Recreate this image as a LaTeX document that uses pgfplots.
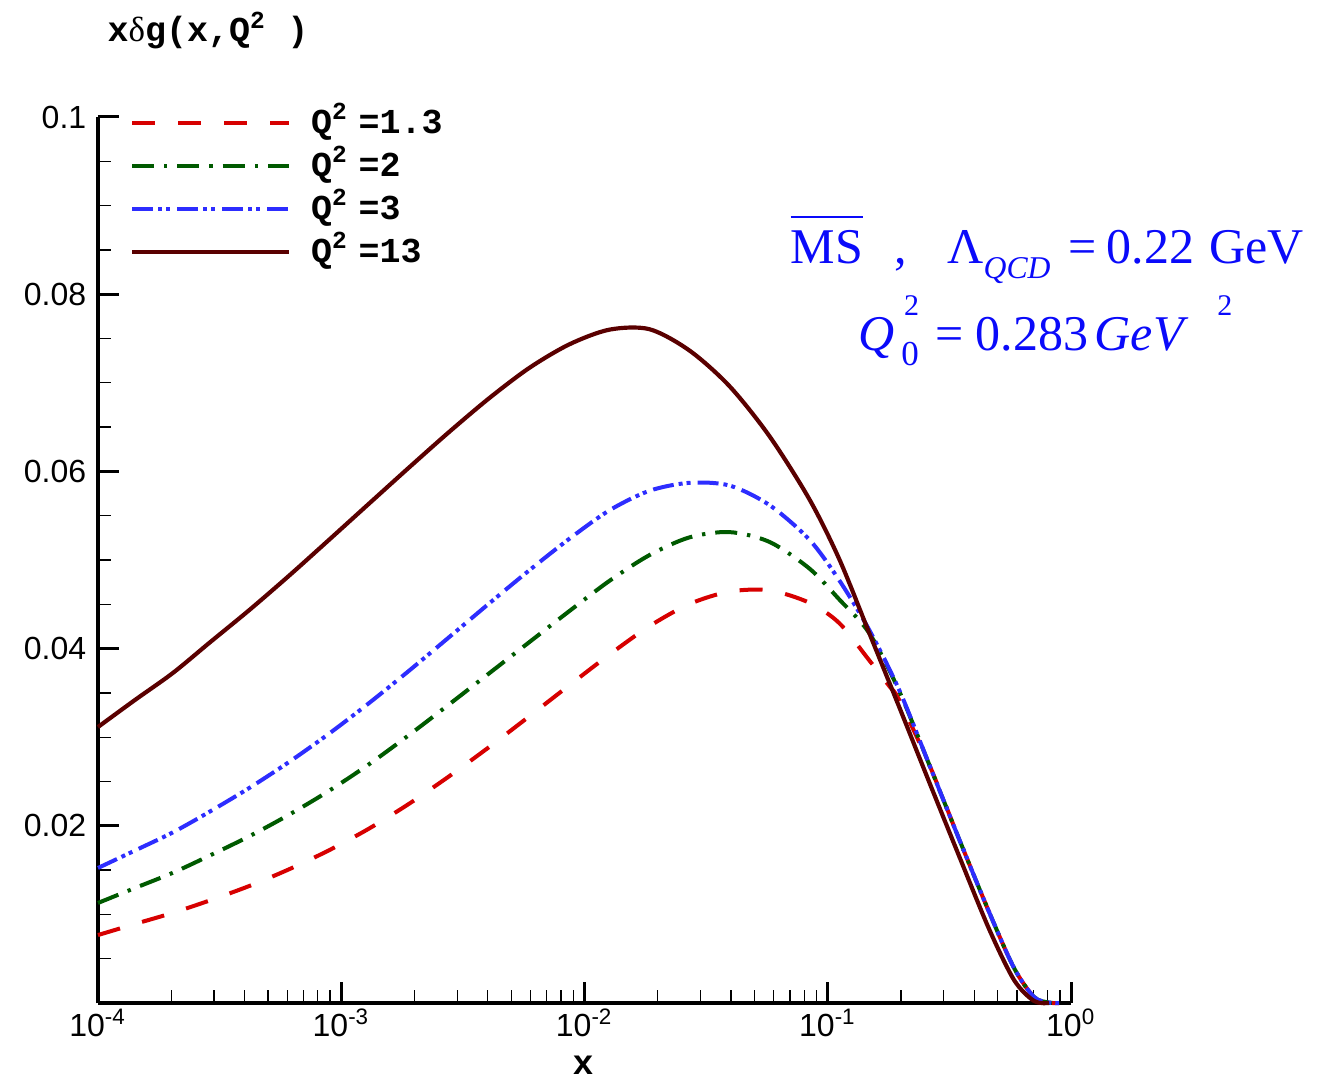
\documentclass[border=0pt]{standalone}
\usepackage{pgfplots}
\pgfplotsset{compat=1.18}
\usepackage{fontspec}
\setmainfont{Liberation Sans}
\newfontfamily\monob{Liberation Mono}
\newfontfamily\annfont{Liberation Serif}
\newcommand\mb{\monob\bfseries}
\definecolor{cred}{RGB}{215,0,0}
\definecolor{cgreen}{RGB}{0,90,0}
\definecolor{cblue}{RGB}{45,45,255}
\definecolor{cbrown}{RGB}{90,0,0}
\definecolor{annblue}{RGB}{10,10,250}
\begin{document}
\begin{tikzpicture}
\path[use as bounding box] (-29.4pt,-23.1pt) rectangle (368.7pt,300.9pt);
\begin{axis}[
  scale only axis, width=291.9pt, height=265.8pt,
  at={(0pt,0pt)}, anchor=south west,
  xmode=log, xmin=1e-4, xmax=1, ymin=0, ymax=0.1,
  axis lines*=left,
  axis line style={line width=1.2pt, black},
  tick align=inside,
  xtick={1e-4,1e-3,1e-2,1e-1,1},
  xticklabels={10\textsuperscript{-4},10\textsuperscript{-3},10\textsuperscript{-2},10\textsuperscript{-1},10\textsuperscript{0}},
  minor xtick={2e-4,3e-4,4e-4,5e-4,6e-4,7e-4,8e-4,9e-4,2e-3,3e-3,4e-3,5e-3,6e-3,7e-3,8e-3,9e-3,2e-2,3e-2,4e-2,5e-2,6e-2,7e-2,8e-2,9e-2,0.2,0.3,0.4,0.5,0.6,0.7,0.8,0.9},
  ytick={0.02,0.04,0.06,0.08,0.1},
  yticklabels={0.02,0.04,0.06,0.08,0.1},
  minor ytick={0.005,0.01,0.015,0.025,0.03,0.035,0.045,0.05,0.055,0.065,0.07,0.075,0.085,0.09,0.095},
  major tick length=6.3pt, minor tick length=3.9pt,
  every major tick/.append style={line width=0.9pt, black},
  every minor tick/.append style={line width=0.4pt, black},
  tick label style={font=\fontsize{9.6}{11}\selectfont},
  xticklabel style={yshift=1.8pt},
  xlabel={\mb x},
  xlabel style={at={(axis description cs:0.4985,-0.081)}, anchor=base, inner sep=0pt, font=\mb\fontsize{10.5}{12}\selectfont},
  ylabel={x{\annfont\mdseries δ}g(x,Q\textsuperscript{2} )},
  ylabel style={rotate=-90, at={(axis description cs:0.0092,1.0847)}, anchor=base west, inner sep=0pt, font=\mb\fontsize{10.5}{12}\selectfont},
  clip=false,
  legend style={draw=none, fill=none, inner sep=0pt, outer sep=0pt, at={(axis description cs:0.0329,1.012)}, anchor=north west,
    font=\mb\fontsize{10.5}{12}\selectfont, row sep=2.9pt,
    nodes={inner sep=0pt, text height=8pt, text depth=2pt},
    /tikz/every odd column/.append style={column sep=6pt}},
  legend cell align=left,
  legend image code/.code={\draw[#1] (0pt,0pt) -- (47.1pt,0pt);},
]
\addplot[cred, line width=1.2pt, smooth, dash pattern=on 6.9pt off 6.9pt] coordinates {
(1.000e-4,0.00767) (1.419e-4,0.00892) (2.032e-4,0.01018) (2.884e-4,0.01158) (4.209e-4,0.01323)
(6.145e-4,0.01513) (8.970e-4,0.01728) (1.309e-3,0.01973) (1.911e-3,0.02253) (2.790e-3,0.02563)
(4.073e-3,0.02893) (5.945e-3,0.03238) (8.679e-3,0.03588) (1.267e-2,0.03933) (1.849e-2,0.04253)
(2.699e-2,0.04503) (3.939e-2,0.04643) (5.751e-2,0.04658) (8.395e-2,0.04518) (0.1115,0.04288)
(0.1481,0.03868) (0.1789,0.03578) (0.1967,0.03420) (0.2612,0.02692) (0.3467,0.01851)
(0.4605,0.01027) (0.5832,0.00395) (0.7047,0.00068) (0.8123,0.00005) (0.8927,0.0)};
\addlegendentry{Q\textsuperscript{2}\hspace{3pt}=1.3}
\addplot[cgreen, line width=1.2pt, smooth, dash pattern=on 6.6pt off 3pt on 1pt off 3pt] coordinates {
(1.000e-4,0.01129) (1.419e-4,0.01298) (2.032e-4,0.01470) (2.884e-4,0.01665) (4.209e-4,0.01885)
(6.145e-4,0.02130) (8.970e-4,0.02400) (1.309e-3,0.02700) (1.911e-3,0.03030) (2.790e-3,0.03375)
(4.073e-3,0.03725) (5.945e-3,0.04075) (8.679e-3,0.04425) (1.267e-2,0.04765) (1.849e-2,0.05055)
(2.699e-2,0.05255) (3.939e-2,0.05315) (5.751e-2,0.05205) (8.395e-2,0.04905) (0.1115,0.04555)
(0.1481,0.04175) (0.1967,0.03520) (0.2612,0.02692) (0.3467,0.01851) (0.4605,0.01027)
(0.5832,0.00395) (0.7047,0.00068) (0.8123,0.00005) (0.8927,0.0)};
\addlegendentry{Q\textsuperscript{2}\hspace{3pt}=2}
\addplot[cblue, line width=1.2pt, smooth, dash pattern=on 6.3pt off 1.5pt on 1.2pt off 1.2pt on 1.2pt off 2.1pt] coordinates {
(1.000e-4,0.01524) (1.419e-4,0.01721) (2.032e-4,0.01926) (2.884e-4,0.02161) (4.209e-4,0.02431)
(6.145e-4,0.02726) (8.970e-4,0.03046) (1.309e-3,0.03391) (1.911e-3,0.03756) (2.790e-3,0.04134)
(4.073e-3,0.04514) (5.945e-3,0.04886) (8.679e-3,0.05241) (1.267e-2,0.05561) (1.849e-2,0.05781)
(2.699e-2,0.05871) (3.939e-2,0.05841) (5.751e-2,0.05621) (8.395e-2,0.05231) (0.1115,0.04771)
(0.1481,0.04211) (0.1967,0.03533) (0.2612,0.02692) (0.3467,0.01851) (0.4605,0.01027)
(0.5832,0.00395) (0.7047,0.00068) (0.8123,0.00005) (0.8927,0.0)};
\addlegendentry{Q\textsuperscript{2}\hspace{3pt}=3}
\addplot[cbrown, line width=1.25pt, smooth] coordinates {
(1.000e-4,0.03115) (1.419e-4,0.03420) (2.032e-4,0.03725) (2.884e-4,0.04070) (4.209e-4,0.04440)
(6.145e-4,0.04830) (8.970e-4,0.05235) (1.309e-3,0.05643) (1.911e-3,0.06050) (2.790e-3,0.06450)
(4.073e-3,0.06830) (5.945e-3,0.07170) (8.679e-3,0.07435) (1.267e-2,0.07600)
(1.849e-2,0.07605) (2.699e-2,0.07365) (3.939e-2,0.06964) (5.751e-2,0.06400) (8.395e-2,0.05688)
(0.1115,0.05010) (0.1481,0.04176) (0.1967,0.03341) (0.2612,0.02494) (0.3467,0.01659)
(0.4605,0.00835) (0.5832,0.00260) (0.7047,0.00023) (0.8123,0.0)};
\addlegendentry{Q\textsuperscript{2}\hspace{3pt}=13}
\node[anchor=base west, inner sep=0pt, text=annblue, font=\annfont\fontsize{15}{18}\selectfont]
  at (axis description cs:0.7112,0.8352)
  {{\setbox0\hbox{MS}\rlap{\rule[13.5pt]{\wd0}{0.7pt}}\box0}\hspace{9.6pt},\hspace{12pt}Λ\raisebox{-4.5pt}{\fontsize{9.5}{10}\selectfont\itshape QCD}\hspace{5.4pt}=\hspace{3pt}0.22\hspace{4.5pt}GeV};
\node[anchor=base west, inner sep=0pt, text=annblue, font=\annfont\fontsize{15}{18}\selectfont]
  at (axis description cs:0.7811,0.7359)
  {\textit{Q}\hspace{2pt}\rlap{\raisebox{-4.3pt}{\fontsize{10.5}{10}\selectfont 0}}\hspace{0.8pt}\raisebox{10.5pt}{\fontsize{9}{10}\selectfont 2}\hspace{5pt}=\hspace{3.5pt}0.283\hspace{2pt}\textit{GeV}\hspace{8.7pt}\raisebox{10.5pt}{\fontsize{9}{10}\selectfont 2}};
\end{axis}
\end{tikzpicture}
\end{document}
